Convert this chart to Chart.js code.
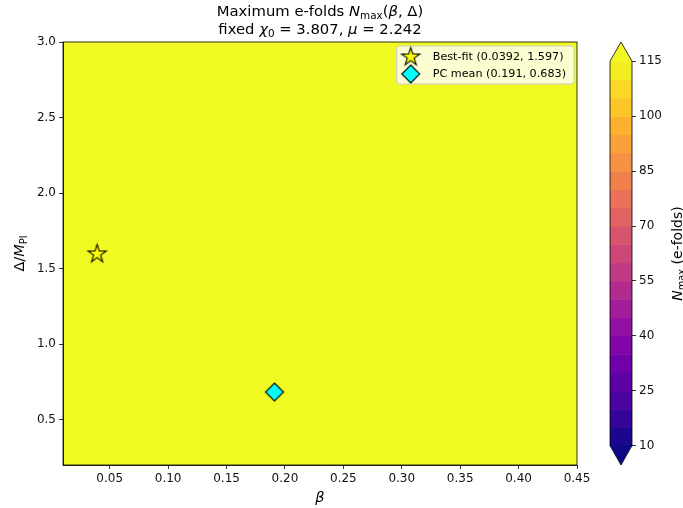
<!DOCTYPE html>
<html>
<head>
    <title>Maximum e-folds N_max</title>
    <script src="https://cdn.jsdelivr.net/npm/chart.js@4.4.0/dist/chart.umd.min.js"></script>
    <style>
        body {
            margin: 0;
            background-color: white;
        }
    </style>
</head>
<body>
    <canvas id="nmaxChart" width="683" height="508"></canvas>

    <script>
        // axis ticks
        const xTicks = [0.05, 0.10, 0.15, 0.20, 0.25, 0.30, 0.35, 0.40, 0.45];
        const yTicks = [0.5, 1.0, 1.5, 2.0, 2.5, 3.0];
        const xRange = [0.01, 0.45];
        const yRange = [0.2, 3.0];

        // colorbar levels (contour bands) and tick labels
        const cbLevels = [10, 15, 20, 25, 30, 35, 40, 45, 50, 55, 60, 65, 70, 75, 80, 85, 90, 95, 100, 105, 110, 115];
        const cbTicks = [10, 25, 40, 55, 70, 85, 100, 115];

        // marked points
        const bestFitX = [0.0392];
        const bestFitY = [1.597];
        const pcMeanX = [0.191];
        const pcMeanY = [0.683];
        const seriesLabels = ['Best-fit (0.0392, 1.597)', 'PC mean (0.191, 0.683)'];

        const FONT = "'DejaVu Sans', sans-serif";
        const TXT = '#111';

        // plasma colormap stops
        const plasma = ['#0d0887', '#2a0593', '#41049d', '#5601a4', '#6a00a8', '#7e03a8', '#8f0da4',
            '#a11b9b', '#b12a90', '#bf3984', '#cc4778', '#d6556d', '#e16462', '#ea7457', '#f2844b',
            '#f89540', '#fca636', '#feb82c', '#fcce25', '#f7e225', '#f0f921'];
        function hex(c) { return [1, 3, 5].map(i => parseInt(c.substr(i, 2), 16)); }
        function plasmaAt(t) {
            t = Math.max(0, Math.min(1, t));
            const p = t * (plasma.length - 1);
            const i = Math.min(Math.floor(p), plasma.length - 2);
            const f = p - i;
            const a = hex(plasma[i]), b = hex(plasma[i + 1]);
            return 'rgb(' + a.map((v, k) => Math.round(v + (b[k] - v) * f)).join(',') + ')';
        }
        const overColor = plasma[plasma.length - 1];
        const underColor = plasma[0];

        // marker images
        function starImage(R) {
            const s = Math.ceil(R * 2 + 4);
            const c = document.createElement('canvas');
            c.width = s; c.height = s;
            const g = c.getContext('2d');
            g.beginPath();
            for (let k = 0; k < 10; k++) {
                const r = k % 2 === 0 ? R : R * 0.381966;
                const a = -Math.PI / 2 + k * Math.PI / 5;
                const px = s / 2 + r * Math.cos(a), py = s / 2 + r * Math.sin(a);
                if (k === 0) g.moveTo(px, py); else g.lineTo(px, py);
            }
            g.closePath();
            g.fillStyle = '#ffff00';
            g.fill();
            g.lineWidth = 1.1;
            g.strokeStyle = '#000';
            g.lineJoin = 'miter';
            g.stroke();
            return c;
        }
        function diamondImage(r) {
            const s = Math.ceil(r * 2 + 4);
            const c = document.createElement('canvas');
            c.width = s; c.height = s;
            const g = c.getContext('2d');
            g.beginPath();
            g.moveTo(s / 2, s / 2 - r);
            g.lineTo(s / 2 + r, s / 2);
            g.lineTo(s / 2, s / 2 + r);
            g.lineTo(s / 2 - r, s / 2);
            g.closePath();
            g.fillStyle = '#00ffff';
            g.fill();
            g.lineWidth = 1.1;
            g.strokeStyle = '#000';
            g.stroke();
            return c;
        }
        const starImg = starImage(9.5);
        const diamondImg = diamondImage(9);

        // rich text: parts = [[text, style]], style: '', 'i', 's' (sub)
        function partFont(style, size) {
            if (style === 'i') return 'italic ' + size + 'px ' + FONT;
            if (style === 's') return (size * 0.7).toFixed(1) + 'px ' + FONT;
            return size + 'px ' + FONT;
        }
        function richText(ctx, parts, x, y, size) {
            let w = 0;
            parts.forEach(p => { ctx.font = partFont(p[1], size); w += ctx.measureText(p[0]).width; });
            let cx = x - w / 2;
            ctx.textAlign = 'left';
            ctx.textBaseline = 'alphabetic';
            parts.forEach(p => {
                ctx.font = partFont(p[1], size);
                ctx.fillText(p[0], cx, p[1] === 's' ? y + size * 0.22 : y);
                cx += ctx.measureText(p[0]).width;
            });
        }

        const decorPlugin = {
            id: 'decor',
            beforeDraw(chart) {
                const { ctx, chartArea: a } = chart;
                ctx.save();
                ctx.fillStyle = '#fff';
                ctx.fillRect(0, 0, chart.width, chart.height);
                ctx.fillStyle = overColor;
                ctx.fillRect(a.left, a.top, a.right - a.left, a.bottom - a.top);
                ctx.restore();
            },
            afterDraw(chart) {
                const { ctx, chartArea: a } = chart;
                ctx.save();
                // frame
                ctx.strokeStyle = '#000';
                ctx.lineWidth = 0.8;
                ctx.strokeRect(a.left, a.top, a.right - a.left, a.bottom - a.top);

                // colorbar
                const cb = chart.scales.cb;
                const x1 = cb.left, x0 = x1 - 22, xm = (x0 + x1) / 2;
                const yTop = cb.getPixelForValue(cbLevels[cbLevels.length - 1]);
                const yBot = cb.getPixelForValue(cbLevels[0]);
                const ext = (yBot - yTop) * 0.05;
                const lo = cbLevels[0], hi = cbLevels[cbLevels.length - 1];
                for (let i = 0; i < cbLevels.length - 1; i++) {
                    const ya = cb.getPixelForValue(cbLevels[i]);
                    const yb = cb.getPixelForValue(cbLevels[i + 1]);
                    const mid = (cbLevels[i] + cbLevels[i + 1]) / 2;
                    ctx.fillStyle = plasmaAt((mid - lo) / (hi - lo));
                    ctx.fillRect(x0, yb, x1 - x0, ya - yb + 0.6);
                }
                ctx.fillStyle = overColor;
                ctx.beginPath();
                ctx.moveTo(x0, yTop + 0.5); ctx.lineTo(xm, yTop - ext); ctx.lineTo(x1, yTop + 0.5);
                ctx.closePath(); ctx.fill();
                ctx.fillStyle = underColor;
                ctx.beginPath();
                ctx.moveTo(x0, yBot - 0.5); ctx.lineTo(xm, yBot + ext); ctx.lineTo(x1, yBot - 0.5);
                ctx.closePath(); ctx.fill();
                ctx.beginPath();
                ctx.moveTo(x0, yTop); ctx.lineTo(xm, yTop - ext); ctx.lineTo(x1, yTop);
                ctx.lineTo(x1, yBot); ctx.lineTo(xm, yBot + ext); ctx.lineTo(x0, yBot);
                ctx.closePath();
                ctx.strokeStyle = '#000';
                ctx.lineWidth = 0.8;
                ctx.stroke();

                // legend
                const lfont = '11.2px ' + FONT;
                ctx.font = lfont;
                const tw = Math.max(...seriesLabels.map(t => ctx.measureText(t).width));
                const lw = 36 + tw + 8, lh = 38;
                const lx = a.right - 3 - lw, ly = a.top + 4;
                ctx.beginPath();
                ctx.roundRect(lx, ly, lw, lh, 3);
                ctx.fillStyle = 'rgba(255,255,255,0.8)';
                ctx.fill();
                ctx.strokeStyle = '#cccccc';
                ctx.lineWidth = 1;
                ctx.stroke();
                const imgs = [starImg, diamondImg];
                seriesLabels.forEach((t, i) => {
                    const ry = ly + 11 + i * 17;
                    const im = imgs[i];
                    ctx.drawImage(im, lx + 14 - im.width / 2, ry - im.height / 2);
                    ctx.fillStyle = '#000';
                    ctx.textAlign = 'left';
                    ctx.textBaseline = 'middle';
                    ctx.font = lfont;
                    ctx.fillText(t, lx + 36, ry + 0.5);
                });

                // titles
                ctx.fillStyle = '#000';
                const cx = (a.left + a.right) / 2;
                richText(ctx, [['Maximum e-folds ', ''], ['N', 'i'], ['max', 's'], ['(', ''], ['β', 'i'], [', Δ)', '']], cx, 16, 14.8);
                richText(ctx, [['fixed ', ''], ['χ', 'i'], ['0', 's'], [' = 3.807, ', ''], ['μ', 'i'], [' = 2.242', '']], cx, 34, 14.8);

                // axis titles
                richText(ctx, [['β', 'i']], cx, 502, 14.5);
                ctx.save();
                ctx.translate(24, (a.top + a.bottom) / 2);
                ctx.rotate(-Math.PI / 2);
                richText(ctx, [['Δ/', ''], ['M', 'i'], ['Pl', 's']], 0, 0, 14.5);
                ctx.restore();
                ctx.save();
                ctx.translate(682, (a.top + a.bottom) / 2);
                ctx.rotate(-Math.PI / 2);
                richText(ctx, [['N', 'i'], ['max', 's'], [' (e-folds)', '']], 0, 0, 14);
                ctx.restore();
                ctx.restore();
            }
        };

        const tickGrid = { drawOnChartArea: false, drawTicks: true, tickLength: 4, color: '#000', lineWidth: 0.8 };
        const tickFont = { family: FONT, size: 12 };

        // colorbar scale range: interior levels take 1/1.1 of the axis height
        const cbLo = cbLevels[0], cbHi = cbLevels[cbLevels.length - 1];
        const cbPad = (cbHi - cbLo) * 0.05;

        new Chart(document.getElementById('nmaxChart'), {
            type: 'scatter',
            data: {
                datasets: [{
                    label: seriesLabels[0],
                    data: bestFitX.map((x, i) => ({ x: x, y: bestFitY[i] })),
                    pointStyle: starImg,
                    pointRadius: 10
                }, {
                    label: seriesLabels[1],
                    data: pcMeanX.map((x, i) => ({ x: x, y: pcMeanY[i] })),
                    pointStyle: diamondImg,
                    pointRadius: 9
                }]
            },
            options: {
                responsive: false,
                animation: false,
                devicePixelRatio: 1,
                layout: { padding: { top: 42, left: 0, right: 0, bottom: 0 } },
                plugins: { legend: { display: false }, tooltip: { enabled: false } },
                scales: {
                    x: {
                        type: 'linear', position: 'bottom',
                        min: xRange[0], max: xRange[1],
                        afterBuildTicks: s => { s.ticks = xTicks.map(v => ({ value: v })); },
                        afterFit: s => { s.height = 43; },
                        grid: tickGrid,
                        border: { display: true, color: '#000', width: 0.8 },
                        ticks: { font: tickFont, color: TXT, padding: 3, maxRotation: 0, callback: v => v.toFixed(2) }
                    },
                    y: {
                        type: 'linear', position: 'left',
                        min: yRange[0], max: yRange[1],
                        afterBuildTicks: s => { s.ticks = yTicks.map(v => ({ value: v })); },
                        afterFit: s => { s.width = 63; },
                        grid: tickGrid,
                        border: { display: true, color: '#000', width: 0.8 },
                        ticks: { font: tickFont, color: TXT, padding: 3, callback: v => v.toFixed(1) }
                    },
                    gap: {
                        type: 'linear', position: 'right', weight: 0,
                        afterFit: s => { s.width = 55; },
                        grid: { display: false },
                        border: { display: false },
                        ticks: { display: false }
                    },
                    cb: {
                        type: 'linear', position: 'right', weight: 1,
                        min: cbLo - cbPad, max: cbHi + cbPad,
                        afterBuildTicks: s => { s.ticks = cbTicks.map(v => ({ value: v })); },
                        afterFit: s => { s.width = 51; },
                        grid: tickGrid,
                        border: { display: false },
                        ticks: { font: tickFont, color: TXT, padding: 3 }
                    }
                }
            },
            plugins: [decorPlugin]
        });
    </script>
</body>
</html>
